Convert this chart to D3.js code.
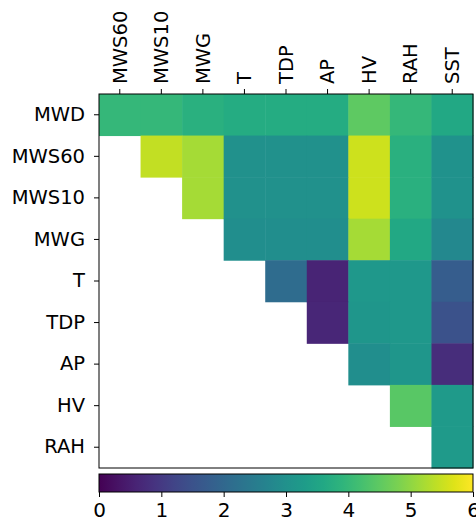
<!DOCTYPE html>
<html>
<head>
<meta charset="utf-8">
<script src="https://cdn.jsdelivr.net/npm/d3@7"></script>
<style>
  body { margin: 0; background: #fff; }
  text { font-family: "DejaVu Sans", sans-serif; fill: #000; }
</style>
</head>
<body>
<svg id="chart" width="476" height="524"></svg>
<script>
var rowNames = ['MWD', 'MWS60', 'MWS10', 'MWG', 'T', 'TDP', 'AP', 'HV', 'RAH'];
var colNames = ['MWS60', 'MWS10', 'MWG', 'T', 'TDP', 'AP', 'HV', 'RAH', 'SST'];
// null = empty (lower triangle)
var matrix = [
  [4.0, 4.0, 3.8, 3.7, 3.7, 3.7, 4.5, 4.0, 3.6],
  [null, 5.45, 5.2, 3.0, 3.0, 3.0, 5.55, 3.8, 3.05],
  [null, null, 5.2, 3.0, 3.0, 3.0, 5.55, 3.8, 3.05],
  [null, null, null, 2.95, 2.95, 2.95, 5.2, 3.6, 2.8],
  [null, null, null, null, 2.1, 0.6, 3.2, 3.2, 1.75],
  [null, null, null, null, null, 0.65, 3.15, 3.2, 1.5],
  [null, null, null, null, null, null, 2.95, 3.15, 0.75],
  [null, null, null, null, null, null, null, 4.45, 3.25],
  [null, null, null, null, null, null, null, null, 3.25]
];
var colorTicks = [0, 1, 2, 3, 4, 5, 6];

(function () {
  var svg = d3.select('#chart');
  var mLeft = 99, mRight = 473, mTop = 94, mBottom = 468;

  var x = d3.scaleBand().domain(colNames).range([mLeft, mRight]);
  var y = d3.scaleBand().domain(rowNames).range([mTop, mBottom]);
  var color = d3.scaleSequential(d3.interpolateViridis).domain([0, 6]);

  var cells = [];
  matrix.forEach(function(row, i) {
    row.forEach(function(v, j) {
      if (v !== null) cells.push({ r: rowNames[i], c: colNames[j], v: v });
    });
  });

  svg.append('g').selectAll('rect')
    .data(cells)
    .enter().append('rect')
    .attr('x', function(d) { return x(d.c); })
    .attr('y', function(d) { return y(d.r); })
    .attr('width', x.bandwidth() + 0.5)
    .attr('height', y.bandwidth() + 0.5)
    .attr('fill', function(d) { return color(d.v); });

  svg.append('rect')
    .attr('x', mLeft).attr('y', mTop)
    .attr('width', mRight - mLeft).attr('height', mBottom - mTop)
    .attr('fill', 'none').attr('stroke', '#000').attr('stroke-width', 1);

  // top axis
  var topAxis = svg.append('g')
    .attr('transform', 'translate(0,' + mTop + ')')
    .call(d3.axisTop(x).tickSize(5).tickSizeOuter(0));
  topAxis.select('.domain').remove();
  topAxis.selectAll('text')
    .attr('transform', 'rotate(-90)')
    .attr('x', 10).attr('y', 0)
    .attr('dy', '0.35em')
    .style('text-anchor', 'start')
    .style('font-size', '19.5px');

  // left axis
  var leftAxis = svg.append('g')
    .attr('transform', 'translate(' + mLeft + ',0)')
    .call(d3.axisLeft(y).tickSize(5).tickSizeOuter(0).tickPadding(9));
  leftAxis.select('.domain').remove();
  leftAxis.selectAll('text').style('font-size', '19.5px');

  // colorbar
  var cbTop = 474, cbH = 18;
  var cx = d3.scaleLinear().domain([0, 6]).range([mLeft, mRight]);
  var grad = svg.append('defs').append('linearGradient').attr('id', 'cbgrad');
  d3.range(0, 1.0001, 0.05).forEach(function(t) {
    grad.append('stop').attr('offset', t).attr('stop-color', d3.interpolateViridis(t));
  });
  svg.append('rect')
    .attr('x', mLeft).attr('y', cbTop)
    .attr('width', mRight - mLeft).attr('height', cbH)
    .attr('fill', 'url(#cbgrad)')
    .attr('stroke', '#000').attr('stroke-width', 1);

  var cbAxis = svg.append('g')
    .attr('transform', 'translate(0,' + (cbTop + cbH) + ')')
    .call(d3.axisBottom(cx).tickValues(colorTicks).tickFormat(d3.format('d'))
      .tickSize(5).tickSizeOuter(0).tickPadding(6));
  cbAxis.select('.domain').remove();
  cbAxis.selectAll('text').style('font-size', '20px');
})();
</script>
</body>
</html>
